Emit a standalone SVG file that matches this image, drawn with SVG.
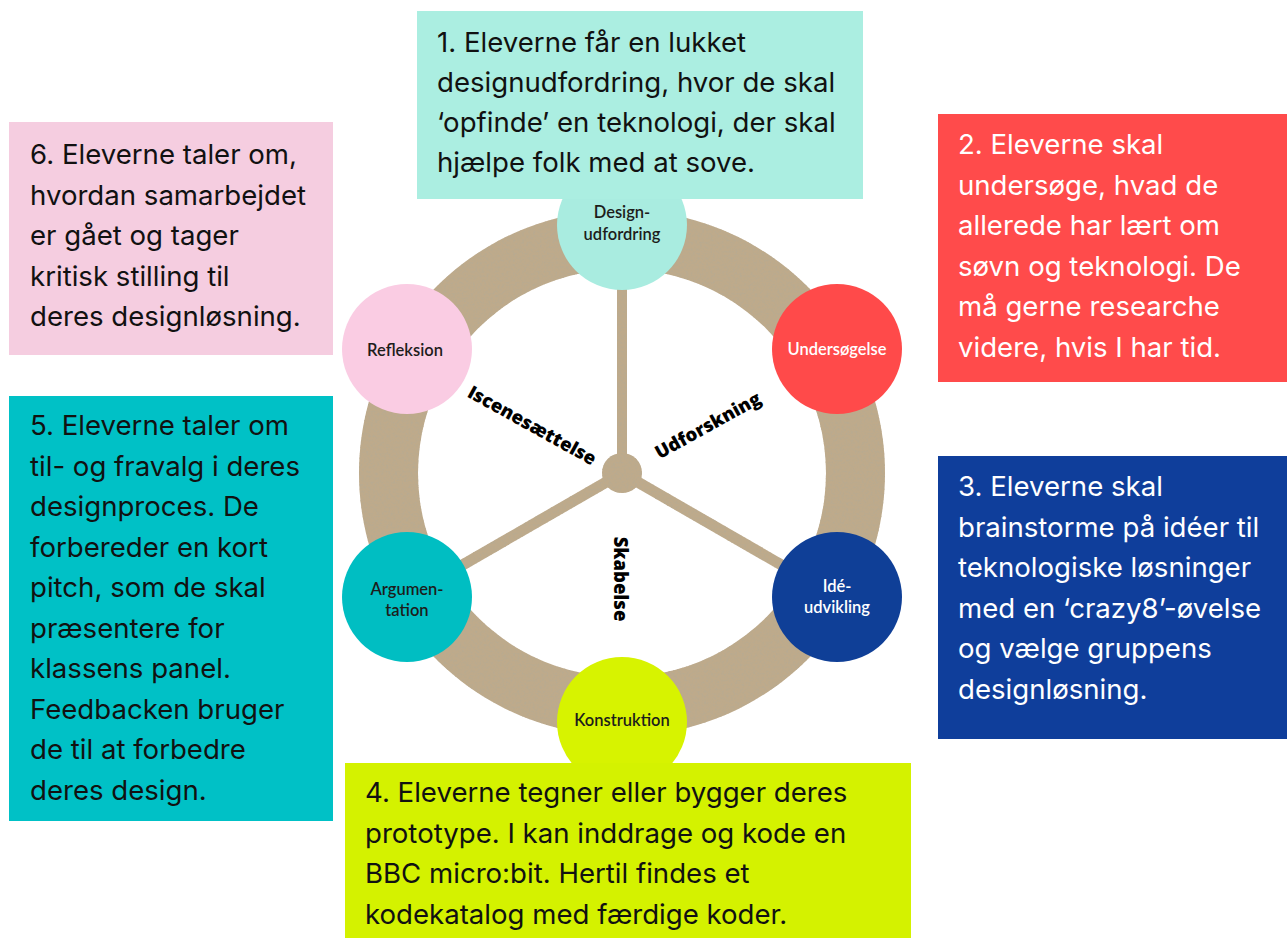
<svg xmlns="http://www.w3.org/2000/svg" width="1287" height="938" viewBox="0 0 1287 938">
  <style>
    .box-text { font-family: Inter, "Noto Sans", "Liberation Sans", sans-serif; font-size: 27.6px; fill: #111111; }
    .box-text.light { fill: #ffffff; }
    .node-label { font-family: Lato, "Noto Sans", "Liberation Sans", sans-serif; font-size: 16.5px; font-weight: 600; fill: #1d1d1b; text-anchor: middle; }
    .node-label.light { fill: #ffffff; }
    .phase { font-family: "Open Sans", Inter, "Liberation Sans", sans-serif; font-size: 18.5px; font-weight: 800; fill: #000000; text-anchor: middle; }
    .board { fill: #BEAA8B; }
  </style>
  <defs>
    <!-- mottled cardboard grain for the wheel -->
    <filter id="cardboard" x="0" y="0" width="100%" height="100%">
      <feTurbulence type="fractalNoise" baseFrequency="0.45" numOctaves="3" seed="7" result="noise"/>
      <feColorMatrix in="noise" type="matrix" values="0 0 0 0 0.48  0 0 0 0 0.40  0 0 0 0 0.28  3 0 0 0 -1.35" result="speck"/>
      <feComposite in="speck" in2="SourceGraphic" operator="in" result="grain"/>
      <feMerge>
        <feMergeNode in="SourceGraphic"/>
        <feMergeNode in="grain"/>
      </feMerge>
    </filter>
  </defs>

  <rect width="1287" height="938" fill="#ffffff"/>

  <!-- wheel: rim, spokes and hub -->
  <g id="wheel" filter="url(#cardboard)">
    <path class="board" fill-rule="evenodd" d="M 622 210 A 263 263 0 1 1 621.99 210 Z M 622 269 A 204 204 0 1 0 622.01 269 Z"/>
    <g id="connectors" stroke="#BEAA8B" stroke-linecap="butt">
      <line x1="622" y1="473" x2="622" y2="225" stroke-width="10"/>
      <line x1="622" y1="473" x2="407" y2="597" stroke-width="11"/>
      <line x1="622" y1="473" x2="837" y2="597" stroke-width="11"/>
    </g>
    <circle class="board" cx="622" cy="473" r="20"/>
  </g>

  <!-- phase labels inside the wheel -->
  <g id="phases">
    <text class="phase" transform="translate(529 431) rotate(29)">Iscenesættelse</text>
    <text class="phase" transform="translate(711 431) rotate(-29)">Udforskning</text>
    <text class="phase" transform="translate(614 579) rotate(90)">Skabelse</text>
  </g>

  <!-- step circles on the rim -->
  <g id="node-design">
    <circle cx="622" cy="225" r="65" fill="#A9ECE0"/>
    <text class="node-label" x="622" y="218">Design-</text>
    <text class="node-label" x="622" y="240">udfordring</text>
  </g>
  <g id="node-undersoegelse">
    <circle cx="837" cy="349" r="65" fill="#FF4A4A"/>
    <text class="node-label light" x="837" y="355">Undersøgelse</text>
  </g>
  <g id="node-ideudvikling">
    <circle cx="837" cy="597" r="65" fill="#0F3F97"/>
    <text class="node-label light" x="837" y="592">Idé-</text>
    <text class="node-label light" x="837" y="613">udvikling</text>
  </g>
  <g id="node-konstruktion">
    <circle cx="622" cy="722" r="65" fill="#D7F300"/>
    <text class="node-label" x="622" y="726">Konstruktion</text>
  </g>
  <g id="node-argumentation">
    <circle cx="407" cy="597" r="65" fill="#00BEC2"/>
    <text class="node-label" x="407" y="595">Argumen-</text>
    <text class="node-label" x="407" y="616">tation</text>
  </g>
  <g id="node-refleksion">
    <circle cx="407" cy="349" r="65" fill="#FACCE3"/>
    <text class="node-label" x="405" y="356">Refleksion</text>
  </g>

  <!-- description boxes -->
  <g id="box-1">
    <rect x="417" y="11" width="446" height="188" fill="#ABEEE1"/>
    <text class="box-text">
      <tspan x="437" y="52">1. Eleverne får en lukket</tspan>
      <tspan x="437" y="92">designudfordring, hvor de skal</tspan>
      <tspan x="437" y="132">‘opfinde’ en teknologi, der skal</tspan>
      <tspan x="437" y="172">hjælpe folk med at sove.</tspan>
    </text>
  </g>
  <g id="box-2">
    <rect x="938" y="114" width="349" height="268" fill="#FF4B4B"/>
    <text class="box-text light">
      <tspan x="958" y="154">2. Eleverne skal</tspan>
      <tspan x="958" y="194.5">undersøge, hvad de</tspan>
      <tspan x="958" y="235">allerede har lært om</tspan>
      <tspan x="958" y="275.5">søvn og teknologi. De</tspan>
      <tspan x="958" y="316">må gerne researche</tspan>
      <tspan x="958" y="356.5">videre, hvis I har tid.</tspan>
    </text>
  </g>
  <g id="box-3">
    <rect x="938" y="456" width="349" height="283" fill="#0F3E9B"/>
    <text class="box-text light">
      <tspan x="958" y="496">3. Eleverne skal</tspan>
      <tspan x="958" y="536.5">brainstorme på idéer til</tspan>
      <tspan x="958" y="577">teknologiske løsninger</tspan>
      <tspan x="958" y="617.5">med en ‘crazy8’-øvelse</tspan>
      <tspan x="958" y="658">og vælge gruppens</tspan>
      <tspan x="958" y="698.5">designløsning.</tspan>
    </text>
  </g>
  <g id="box-4">
    <rect x="345" y="763" width="566" height="175" fill="#D4F200"/>
    <text class="box-text">
      <tspan x="365" y="802">4. Eleverne tegner eller bygger deres</tspan>
      <tspan x="365" y="842.5">prototype. I kan inddrage og kode en</tspan>
      <tspan x="365" y="883">BBC micro:bit. Hertil findes et</tspan>
      <tspan x="365" y="923.5">kodekatalog med færdige koder.</tspan>
    </text>
  </g>
  <g id="box-5">
    <rect x="9" y="396" width="324" height="425" fill="#00C1C6"/>
    <text class="box-text">
      <tspan x="30" y="435">5. Eleverne taler om</tspan>
      <tspan x="30" y="475.5">til- og fravalg i deres</tspan>
      <tspan x="30" y="516">designproces. De</tspan>
      <tspan x="30" y="556.5">forbereder en kort</tspan>
      <tspan x="30" y="597">pitch, som de skal</tspan>
      <tspan x="30" y="637.5">præsentere for</tspan>
      <tspan x="30" y="678">klassens panel.</tspan>
      <tspan x="30" y="718.5">Feedbacken bruger</tspan>
      <tspan x="30" y="759">de til at forbedre</tspan>
      <tspan x="30" y="799.5">deres design.</tspan>
    </text>
  </g>
  <g id="box-6">
    <rect x="9" y="122" width="324" height="233" fill="#F5CDE0"/>
    <text class="box-text">
      <tspan x="30" y="164">6. Eleverne taler om,</tspan>
      <tspan x="30" y="204.5">hvordan samarbejdet</tspan>
      <tspan x="30" y="245">er gået og tager</tspan>
      <tspan x="30" y="285.5">kritisk stilling til</tspan>
      <tspan x="30" y="326">deres designløsning.</tspan>
    </text>
  </g>
</svg>
